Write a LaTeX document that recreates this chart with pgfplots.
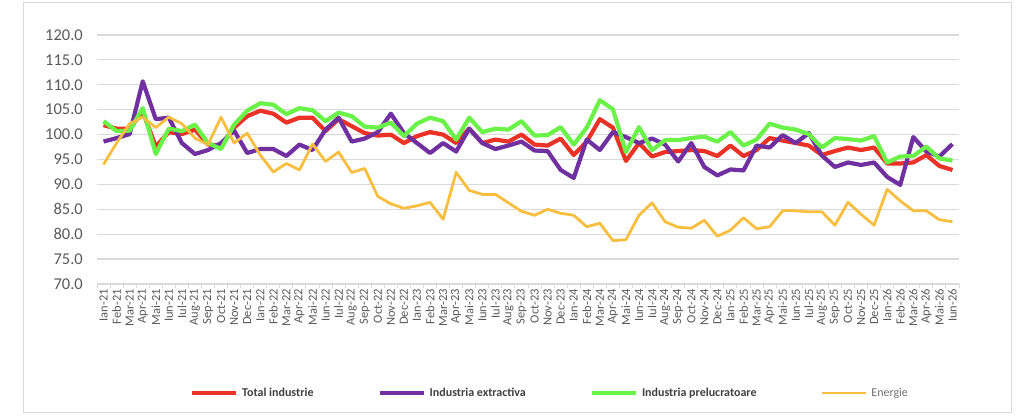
\documentclass[border=0pt]{standalone}
\usepackage{fontspec}
\setmainfont{Carlito}
\usepackage{pgfplots}
\usepackage{pgfplotstable}
\pgfplotsset{compat=1.18}
\definecolor{cred}{RGB}{234,50,38}
\definecolor{cpurple}{RGB}{112,48,160}
\definecolor{cgreen}{RGB}{106,242,72}
\definecolor{corange}{RGB}{248,190,64}
\definecolor{gridgray}{RGB}{217,217,217}
\definecolor{framegray}{RGB}{217,217,217}
\definecolor{labelgray}{RGB}{89,89,89}
\definecolor{leggray}{RGB}{64,64,64}
\definecolor{enggray}{RGB}{110,110,110}
\pgfplotstableread{
x tot ext pre en
0 101.9 98.6 102.7 94.0
1 101.2 99.3 100.7 98.3
2 101.2 100.1 100.8 102.2
3 104.6 110.7 105.3 103.5
4 97.6 103.1 96.1 101.4
5 100.5 103.4 101.2 103.5
6 100.1 98.3 100.7 102.2
7 101.0 96.1 102.0 99.3
8 98.0 96.9 98.3 98.0
9 97.8 98.3 97.1 103.5
10 101.4 100.8 102.0 98.3
11 103.7 96.3 104.8 100.3
12 104.8 97.1 106.3 95.9
13 104.2 97.1 106.0 92.5
14 102.4 95.7 104.1 94.2
15 103.4 98.0 105.3 92.9
16 103.4 96.9 104.9 98.1
17 100.7 101.0 102.7 94.6
18 103.1 103.4 104.4 96.5
19 101.7 98.6 103.7 92.4
20 100.3 99.2 101.6 93.2
21 99.8 100.5 101.4 87.6
22 100.0 104.2 102.4 86.1
23 98.3 100.3 99.7 85.2
24 99.7 98.3 102.2 85.7
25 100.5 96.3 103.4 86.4
26 100.0 98.3 102.7 83.0
27 98.3 96.6 99.0 92.4
28 101.2 101.2 103.4 88.8
29 98.3 98.3 100.5 88.0
30 99.0 97.1 101.2 88.0
31 98.6 97.8 101.0 86.3
32 100.0 98.6 102.7 84.6
33 98.0 96.8 99.8 83.8
34 97.8 96.7 99.9 85.0
35 99.2 92.9 101.5 84.2
36 95.9 91.3 98.0 83.8
37 98.6 99.0 101.4 81.5
38 103.1 96.9 106.9 82.2
39 101.4 100.5 105.1 78.7
40 94.7 99.5 96.5 78.9
41 98.3 98.3 101.5 83.8
42 95.6 99.2 96.9 86.3
43 96.5 98.0 98.9 82.5
44 96.7 94.6 98.9 81.4
45 96.9 98.3 99.3 81.2
46 96.7 93.5 99.6 82.8
47 95.7 91.8 98.6 79.6
48 97.8 93.0 100.5 80.8
49 95.7 92.8 97.8 83.3
50 96.9 97.8 99.0 81.1
51 99.3 97.4 102.2 81.5
52 98.8 99.9 101.4 84.7
53 98.3 98.3 101.0 84.7
54 97.8 100.3 100.1 84.5
55 95.9 95.8 97.4 84.5
56 96.7 93.5 99.3 81.8
57 97.4 94.4 99.1 86.4
58 96.9 93.9 98.8 84.0
59 97.4 94.4 99.7 81.8
60 94.2 91.5 94.4 89.0
61 94.2 89.9 95.6 86.7
62 94.4 99.5 95.7 84.7
63 95.9 96.6 97.6 84.7
64 93.7 95.6 95.2 82.9
65 92.9 98.1 94.8 82.5
}\datatable
\begin{document}
\begin{tikzpicture}
\useasboundingbox (0bp,0bp) rectangle (1024bp,419bp);
\draw[color=framegray, line width=1bp] (23bp,6bp) rectangle (1011bp,416bp);
\begin{axis}[
  at={(97bp,135bp)}, anchor=south west,
  scale only axis, width=862bp, height=249bp,
  xmin=-0.5, xmax=65.5, ymin=70, ymax=120,
  ytick={70,75,80,85,90,95,100,105,110,115,120},
  xtick={0,...,65},
  xticklabels={Ian-21,Feb-21,Mar-21,Apr-21,Mai-21,Iun-21,Iul-21,Aug-21,Sep-21,Oct-21,Nov-21,Dec-21,
    Ian-22,Feb-22,Mar-22,Apr-22,Mai-22,Iun-22,Iul-22,Aug-22,Sep-22,Oct-22,Nov-22,Dec-22,
    Ian-23,Feb-23,Mar-23,Apr-23,Mai-23,Iun-23,Iul-23,Aug-23,Sep-23,Oct-23,Nov-23,Dec-23,
    Ian-24,Feb-24,Mar-24,Apr-24,Mai-24,Iun-24,Iul-24,Aug-24,Sep-24,Oct-24,Nov-24,Dec-24,
    Ian-25,Feb-25,Mar-25,Apr-25,Mai-25,Iun-25,Iul-25,Aug-25,Sep-25,Oct-25,Nov-25,Dec-25,
    Ian-26,Feb-26,Mar-26,Apr-26,Mai-26,Iun-26},
  minor xtick={-0.5,0.5,...,65.5},
  minor ytick={},
  major tick length=0pt,
  minor tick length=4bp,
  tick align=outside,
  tick pos=left,
  minor tick style={color=gridgray, line width=1bp},
  axis line style={draw=none},
  ymajorgrids=true,
  major grid style={color=gridgray, line width=1.2bp},
  /pgf/number format/assume math mode=true,
  yticklabel style={/pgf/number format/fixed, /pgf/number format/fixed zerofill, /pgf/number format/precision=1},
  y tick label style={font=\fontsize{16.5bp}{18bp}\selectfont, text=labelgray, inner sep=0pt, xshift=-14bp},
  x tick label style={yshift=-5bp, rotate=90, anchor=east, font=\fontsize{12.5bp}{13bp}\selectfont, text=labelgray, inner sep=0pt},
  legend columns=4,
  legend style={at={(0.1079,-0.4378)}, anchor=west, draw=none, fill=none, inner sep=0pt, outer sep=0pt,
    font=\fontsize{12bp}{14bp}\selectfont\bfseries, text=leggray,
    nodes={inner sep=0pt},
    /tikz/every odd column/.append style={column sep=4bp},
    /tikz/every even column/.append style={column sep=64bp}},
  legend image code/.code={\draw[#1] (0bp,0bp) -- (44bp,0bp);},
  clip=false,
]
\addplot[color=cred, line width=4.2bp, line join=round] table[x=x, y=tot] {\datatable};
\addlegendentry{Total industrie}
\addplot[color=cpurple, line width=4.2bp, line join=round] table[x=x, y=ext] {\datatable};
\addlegendentry{Industria extractiva}
\addplot[color=cgreen, line width=4.2bp, line join=round] table[x=x, y=pre] {\datatable};
\addlegendentry{Industria prelucratoare}
\addplot[color=corange, line width=2.8bp, line join=round] table[x=x, y=en] {\datatable};
\addlegendentry{\mdseries\textcolor{enggray}{Energie}}
\end{axis}
\end{tikzpicture}
\end{document}
